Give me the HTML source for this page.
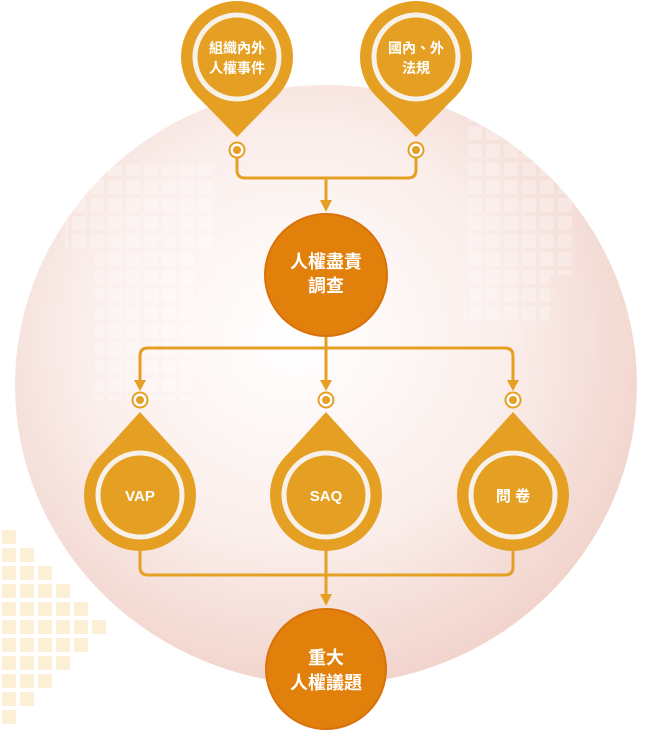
<!DOCTYPE html>
<html><head><meta charset="utf-8"><style>
html,body{margin:0;padding:0;background:#fff;}
svg{display:block}
text{font-family:"Liberation Sans","Noto Sans CJK TC",sans-serif;font-weight:bold;fill:#fff;text-anchor:middle}
</style></head><body>
<svg width="652" height="738" viewBox="0 0 652 738" xmlns="http://www.w3.org/2000/svg">
<defs>
<radialGradient id="bg" cx="0.45" cy="0.42" r="0.6">
<stop offset="0" stop-color="#ffffff"/>
<stop offset="0.55" stop-color="#fbefec"/>
<stop offset="1" stop-color="#f1d3cb"/>
</radialGradient>
<pattern id="sq" width="18" height="18" patternUnits="userSpaceOnUse">
<rect x="0" y="0" width="14" height="14" fill="#fff" opacity="0.25"/>
</pattern>
<pattern id="ysq" x="2" y="530" width="18" height="18" patternUnits="userSpaceOnUse">
<rect x="0" y="0" width="14" height="14" fill="#fbf0d6"/>
</pattern>
</defs>
<path fill="url(#ysq)" d="M2,530 h18 v18 h18 v18 h18 v18 h18 v18 h18 v18 h18 v18 h-18 v18 h-18 v18 h-18 v18 h-18 v18 h-18 v18 h-18 z"/>
<ellipse cx="326" cy="385" rx="311" ry="300" fill="url(#bg)"/>
<rect x="466" y="105" width="110" height="170" fill="url(#sq)"/>
<rect x="470" y="275" width="80" height="50" fill="url(#sq)"/>
<rect x="65" y="165" width="150" height="85" fill="url(#sq)"/>
<rect x="95" y="250" width="100" height="150" fill="url(#sq)"/>
<g fill="none" stroke="#e5a024" stroke-width="3">
<path d="M237,158 V170 Q237,178 245,178 H408 Q416,178 416,170 V158"/>
<path d="M326,178 V202"/>
<path d="M326,337 V348"/>
<path d="M140,382 V356 Q140,348 148,348 H505 Q513,348 513,356 V382"/>
<path d="M326,348 V382"/>
<path d="M140,548 V567 Q140,575 148,575 H505 Q513,575 513,567 V548"/>
<path d="M326,548 V596"/>
</g>
<path fill="#e5a024" d="M320,200 h12 l-6,12z M134,380 h12 l-6,11z M320,380 h12 l-6,11z M507,380 h12 l-6,11z M320,594 h12 l-6,12z"/>
<g fill="#fff" stroke="#e5a024" stroke-width="2">
<circle cx="237" cy="150" r="7.5"/><circle cx="416" cy="150" r="7.5"/>
<circle cx="140" cy="400" r="7.5"/><circle cx="326" cy="400" r="7.5"/><circle cx="513" cy="400" r="7.5"/>
</g>
<g fill="#e5a024">
<circle cx="237" cy="150" r="4"/><circle cx="416" cy="150" r="4"/>
<circle cx="140" cy="400" r="4"/><circle cx="326" cy="400" r="4"/><circle cx="513" cy="400" r="4"/>
</g>
<g fill="#e5a024">
<circle cx="237" cy="57" r="56"/><path d="M197,96 L277,96 L237,137 Z"/>
<circle cx="416" cy="57" r="56"/><path d="M376,96 L456,96 L416,137 Z"/>
<circle cx="140" cy="495" r="56"/><path d="M100,456 L180,456 L140,412 Z"/>
<circle cx="326" cy="495" r="56"/><path d="M286,456 L366,456 L326,412 Z"/>
<circle cx="513" cy="495" r="56"/><path d="M473,456 L553,456 L513,412 Z"/>
</g>
<g fill="#e5a024" stroke="#f7f1ea" stroke-width="5">
<circle cx="237" cy="57" r="42"/><circle cx="416" cy="57" r="42"/>
<circle cx="140" cy="495" r="42"/><circle cx="326" cy="495" r="42"/><circle cx="513" cy="495" r="42"/>
</g>
<circle cx="326" cy="275" r="61" fill="#e2800c" stroke="#d9720a" stroke-width="2"/>
<circle cx="326" cy="669" r="60" fill="#e2800c" stroke="#d9720a" stroke-width="2"/>
<text x="237" y="53" font-size="14">組織內外</text>
<text x="237" y="73" font-size="14">人權事件</text>
<text x="416" y="53" font-size="14">國內、外</text>
<text x="416" y="73" font-size="14">法規</text>
<text x="326" y="268" font-size="18">人權盡責</text>
<text x="326" y="292" font-size="18">調查</text>
<text x="140" y="501" font-size="15">VAP</text>
<text x="326" y="501" font-size="15">SAQ</text>
<text x="513" y="501" font-size="15">問 卷</text>
<text x="326" y="664" font-size="18">重大</text>
<text x="326" y="689" font-size="18">人權議題</text>
</svg>
</body></html>
